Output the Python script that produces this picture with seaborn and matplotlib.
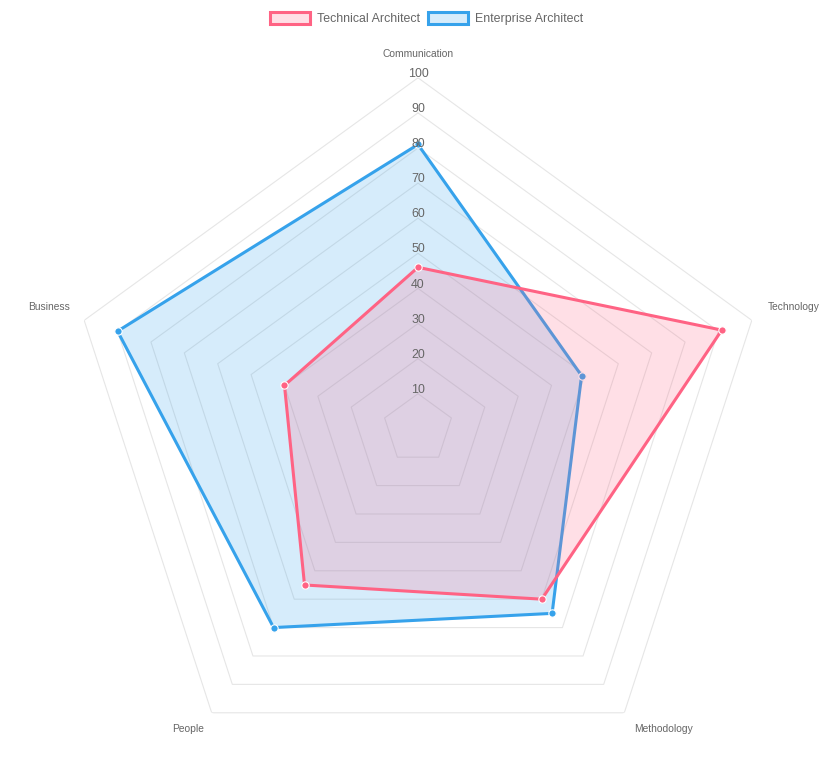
import numpy as np
import pandas as pd
import matplotlib
matplotlib.use("Agg")
import matplotlib.pyplot as plt
from matplotlib.patches import Patch
import seaborn as sns

categories = ["Communication", "Technology", "Methodology", "People", "Business"]
technical_architect = [46, 91, 60, 55, 40]
enterprise_architect = [81, 49, 65, 70, 90]
series_names = ["Technical Architect", "Enterprise Architect"]
tick_values = [10, 20, 30, 40, 50, 60, 70, 80, 90, 100]

sns.set_style("white")
plt.rcParams["font.family"] = ["Liberation Sans", "DejaVu Sans"]

W, H = 835, 762
fig = plt.figure(figsize=(W / 100, H / 100), dpi=100)
cx, cy, R = 418, 428.8, 351
ax = fig.add_axes([(cx - R) / W, (H - cy - R) / H, 2 * R / W, 2 * R / H], projection="polar")
ax.set_theta_zero_location("N")
ax.set_theta_direction(-1)
ax.set_ylim(0, 100)
ax.grid(False)
ax.spines["polar"].set_visible(False)
ax.set_xticks([])
ax.set_yticks([])
ax.set_facecolor("none")

n = len(categories)
theta = np.linspace(0, 2 * np.pi, n, endpoint=False)
theta_closed = np.append(theta, 2 * np.pi)

# pentagon grid
for v in tick_values:
    ax.plot(theta_closed, [v] * (n + 1), color="#e6e6e6", lw=0.8, zorder=1)

colors = {"Technical Architect": "#FF6384", "Enterprise Architect": "#36A2EB"}
data = {"Technical Architect": technical_architect, "Enterprise Architect": enterprise_architect}
zorders = {"Technical Architect": 6, "Enterprise Architect": 4}

for name in series_names[::-1]:
    vals = data[name]
    vals_closed = vals + [vals[0]]
    col = colors[name]
    z = zorders[name]
    ax.fill(theta_closed, vals_closed, color=col, alpha=0.2, lw=0, zorder=z - 1)
    df = pd.DataFrame({"theta": theta_closed, "r": vals_closed})
    sns.lineplot(data=df, x="theta", y="r", sort=False, ax=ax, color=col, lw=2.2, zorder=z)
    sns.scatterplot(x=theta, y=vals, ax=ax, color=col, s=28, edgecolor="white",
                    linewidth=0.8, zorder=z + 0.5)

ax.set_xlabel("")
ax.set_ylabel("")

# tick labels
for v in tick_values:
    ax.annotate(str(v), xy=(0, v), xytext=(0, 2.8), textcoords="offset points",
                ha="center", va="center", fontsize=8.9, color="#666666",
                annotation_clip=False, zorder=10)

# point labels (layout offsets in px)
label_layout = {
    "Communication": ((0, 23.5), "center"),
    "Technology": ((16, 13), "left"),
    "Methodology": ((10, -16.5), "left"),
    "People": ((-8, -16.5), "right"),
    "Business": ((-14, 13), "right"),
}
for t, cat in zip(theta, categories):
    (dx, dy), ha = label_layout[cat]
    ax.annotate(cat, xy=(t, 100), xytext=(dx * 0.72, dy * 0.72), textcoords="offset points",
                ha=ha, va="center", fontsize=7.4, color="#666666", annotation_clip=False)

handles = [Patch(facecolor=matplotlib.colors.to_rgba(colors[s], 0.2), edgecolor=colors[s],
                 linewidth=2.2, label=s) for s in series_names]
fig.legend(handles=handles, loc="center", bbox_to_anchor=(0.511, 1 - 18.5 / H), ncol=2,
           frameon=False, fontsize=8.9, handlelength=3.2, handleheight=1.15,
           handletextpad=0.62, columnspacing=0.62, labelcolor="#666666")

fig.savefig("out.png", dpi=100)
